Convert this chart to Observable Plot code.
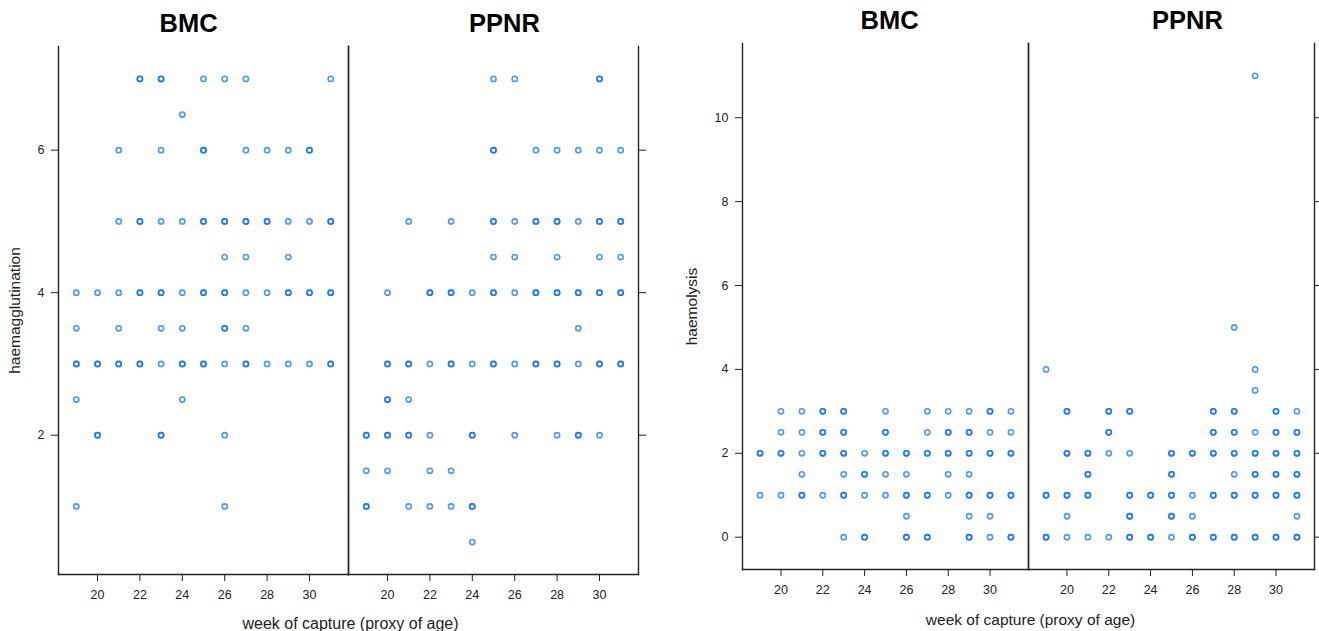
<!DOCTYPE html>
<html>
<head>
<meta charset="utf-8">
<script src="https://cdn.jsdelivr.net/npm/d3@7"></script>
<script src="https://cdn.jsdelivr.net/npm/@observablehq/plot@0.6"></script>
<style>
  html, body { margin: 0; padding: 0; background: #fff; }
  #wrap { display: flex; flex-direction: row; width: 1319px; height: 631px; }
  svg { font-family: "Liberation Sans", Arial, sans-serif; }
</style>
</head>
<body>
<div id="wrap"></div>
<script>
// Panels (facets)
const panels = ["BMC", "PPNR"];
const weekTicks = [20, 22, 24, 26, 28, 30];
const hagTicks = [2, 4, 6];
const hlyTicks = [0, 2, 4, 6, 8, 10];

// Each row: [value, weeks observed, weeks with overlapping (darker) points]
const hagBMC = [
  [7,   [22, 23, 25, 26, 27, 31], [22, 23]],
  [6.5, [24], []],
  [6,   [21, 23, 25, 27, 28, 29, 30], [25, 30]],
  [5,   [21, 22, 23, 24, 25, 26, 27, 28, 29, 30, 31], [22, 25, 26, 27, 28, 31]],
  [4.5, [26, 27, 29], []],
  [4,   [19, 20, 21, 22, 23, 24, 25, 26, 27, 28, 29, 30, 31], [22, 23, 25, 26, 29, 30, 31]],
  [3.5, [19, 21, 23, 24, 26, 27], [26]],
  [3,   [19, 20, 21, 22, 23, 24, 25, 26, 27, 28, 29, 30, 31], [19, 20, 21, 22, 24, 25, 27, 31]],
  [2.5, [19, 24], []],
  [2,   [20, 23, 26], [20, 23]],
  [1,   [19, 26], []]
];
const hagPPNR = [
  [7,   [25, 26, 30], [30]],
  [6,   [25, 27, 28, 29, 30, 31], [25]],
  [5,   [21, 23, 25, 26, 27, 28, 29, 30, 31], [25, 27, 28, 30, 31]],
  [4.5, [25, 26, 28, 30, 31], []],
  [4,   [20, 22, 23, 24, 25, 26, 27, 28, 29, 30, 31], [22, 23, 25, 27, 28, 29, 30, 31]],
  [3.5, [29], []],
  [3,   [20, 21, 22, 23, 24, 25, 26, 27, 28, 29, 30, 31], [20, 21, 23, 25, 27, 28, 30, 31]],
  [2.5, [20, 21], [20]],
  [2,   [19, 20, 21, 22, 24, 26, 28, 29, 30], [19, 20, 21, 24, 29]],
  [1.5, [19, 20, 22, 23], []],
  [1,   [19, 21, 22, 23, 24], [19, 24]],
  [0.5, [24], []]
];
const hlyBMC = [
  [3,   [20, 21, 22, 23, 25, 27, 28, 29, 30, 31], [22, 23, 30]],
  [2.5, [20, 21, 22, 23, 25, 27, 28, 29, 30, 31], [22, 23, 25, 28, 29]],
  [2,   [19, 20, 21, 22, 23, 24, 25, 26, 27, 28, 29, 30, 31], [19, 20, 22, 23, 25, 26, 27, 28, 29, 30, 31]],
  [1.5, [21, 23, 24, 25, 26, 28, 29], [24]],
  [1,   [19, 20, 21, 22, 23, 24, 25, 26, 27, 28, 29, 30, 31], [21, 23, 26, 27, 29, 30, 31]],
  [0.5, [26, 29, 30], []],
  [0,   [23, 24, 26, 27, 29, 30, 31], [24, 26, 27, 29, 31]]
];
const hlyPPNR = [
  [11,  [29], []],
  [5,   [28], []],
  [4,   [19, 29], []],
  [3.5, [29], []],
  [3,   [20, 22, 23, 27, 28, 30, 31], [20, 22, 23, 27, 28, 30]],
  [2.5, [22, 27, 28, 29, 30, 31], [22, 27, 28, 30, 31]],
  [2,   [20, 21, 22, 23, 25, 26, 27, 28, 29, 30, 31], [20, 21, 25, 26, 27, 28, 29, 30, 31]],
  [1.5, [21, 25, 28, 29, 30, 31], [21, 25, 29, 30, 31]],
  [1,   [19, 20, 21, 23, 24, 25, 26, 27, 28, 29, 30, 31], [19, 20, 21, 23, 24, 25, 27, 28, 29, 30, 31]],
  [0.5, [20, 23, 25, 26, 31], [23, 25]],
  [0,   [19, 20, 21, 22, 23, 24, 25, 26, 27, 28, 29, 30, 31], [19, 23, 24, 26, 27, 28, 29, 30, 31]]
];

function expand(rows, panel) {
  const out = [];
  for (const [v, ws, dark] of rows) {
    for (const w of ws) {
      out.push({panel, week: w, value: v});
      if (dark.includes(w)) out.push({panel, week: w, value: v});
    }
  }
  return out;
}

const blue = "#0a6cff";
const font = "Liberation Sans, Arial, sans-serif";

function chart({data, yLabel, yTicks, yDomain, width, marginLeft, marginRight, marginTop, marginBottom,
                xLabelDy, xLabelSize, yLabelDx, yLabelSize, titleDy, titleDx}) {
  return Plot.plot({
    width, height: 631,
    marginLeft, marginRight, marginTop, marginBottom,
    style: {fontFamily: font, color: "#222", background: "#fff"},
    fx: {domain: panels, padding: 0, axis: null},
    x: {domain: [18.16, 31.84]},
    y: {domain: yDomain},
    marks: [
      Plot.frame({anchor: "left", stroke: "#222", strokeWidth: 1.4}),
      Plot.frame({anchor: "right", stroke: "#222", strokeWidth: 1.4}),
      Plot.frame({anchor: "bottom", stroke: "#222", strokeWidth: 1.4}),
      Plot.axisX({anchor: "bottom", ticks: weekTicks, tickSize: 7, tickPadding: 9, fontSize: 12.5, label: null}),
      Plot.axisY({anchor: "left", ticks: yTicks, tickSize: 7, tickPadding: 7, fontSize: 12.5, label: null}),
      Plot.axisY({anchor: "right", ticks: yTicks, tickSize: 7, tickFormat: () => "", label: null}),
      Plot.dot(data, {x: "week", y: "value", fx: "panel", r: 2.6, stroke: blue, strokeWidth: 1.6, strokeOpacity: 0.72, fill: "none"}),
      ...panels.map((p, i) => Plot.text([p], {fx: d => d, text: d => d, frameAnchor: "top", lineAnchor: "middle", dy: titleDy, dx: titleDx[i], fontSize: 25.5, fontWeight: "bold", fill: "#000"})),
      Plot.text([yLabel], {fx: () => "BMC", text: d => d, frameAnchor: "left", textAnchor: "middle", lineAnchor: "middle", rotate: -90, dx: yLabelDx, fontSize: yLabelSize, fill: "#222"}),
      Plot.text(["week of capture (proxy of age)"], {fx: () => "BMC", text: d => d, frameAnchor: "bottom-right", textAnchor: "middle", lineAnchor: "middle", dy: xLabelDy, dx: 2, fontSize: xLabelSize, fill: "#222"})
    ]
  });
}

const wrap = document.getElementById("wrap");
wrap.append(chart({
  data: [...expand(hagBMC, "BMC"), ...expand(hagPPNR, "PPNR")],
  yLabel: "haemagglutination", yTicks: hagTicks, yDomain: [0.045, 7.455],
  width: 660, marginLeft: 58, marginRight: 22, marginTop: 46, marginBottom: 57,
  xLabelDy: 49, xLabelSize: 16, yLabelDx: -43, yLabelSize: 15.5, titleDy: -23, titleDx: [-15, 11]
}));
wrap.append(chart({
  data: [...expand(hlyBMC, "BMC"), ...expand(hlyPPNR, "PPNR")],
  yLabel: "haemolysis", yTicks: hlyTicks, yDomain: [-0.77, 11.77],
  width: 659, marginLeft: 81, marginRight: 5, marginTop: 43, marginBottom: 62,
  xLabelDy: 51, xLabelSize: 15.5, yLabelDx: -50, yLabelSize: 15.5, titleDy: -22.5, titleDx: [4, 16]
}));
</script>
</body>
</html>
